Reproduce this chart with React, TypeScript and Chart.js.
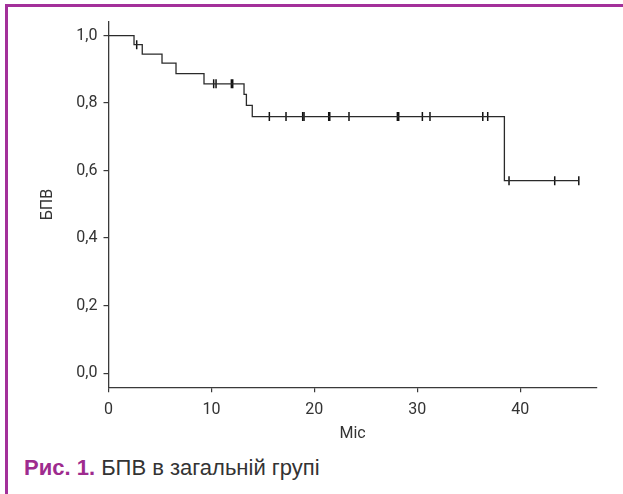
import React, { useEffect, useRef } from "react";
import { Chart, registerables } from "chart.js";

Chart.register(...registerables);

// Kaplan–Meier curve: event times (months) and survival after each event
const eventTimes = [0, 2.48, 3.28, 5.2, 6.56, 9.28, 13.17, 13.4, 13.97, 38.47];
const survival = [1.0, 0.973, 0.945, 0.918, 0.887, 0.857, 0.826, 0.793, 0.76, 0.57];
const followUpEnd = 45.7;

// censored observations (months)
const censorTimes = [
  2.74, 10.22, 10.45, 11.94, 12.07, 15.63, 17.25, 18.87, 19.0, 21.4, 21.5,
  23.37, 28.07, 28.2, 30.5, 31.24, 36.37, 36.85, 38.92, 43.36, 45.7,
];

const xTickValues = [0, 10, 20, 30, 40];
const xTickLabels = ["0", "10", "20", "30", "40"];
const yTickValues = [0, 0.2, 0.4, 0.6, 0.8, 1.0];
const yTickLabels = ["0,0", "0,2", "0,4", "0,6", "0,8", "1,0"];

const xTitle = "Міс";
const yTitle = "БПВ";
const captionBold = "Рис. 1.";
const captionText = "БПВ в загальній групі";

function survivalAt(t: number): number {
  let s = survival[0];
  for (let i = 0; i < eventTimes.length; i++) {
    if (eventTimes[i] <= t) s = survival[i];
  }
  return s;
}

export default function App() {
  const ref = useRef<HTMLCanvasElement | null>(null);

  useEffect(() => {
    if (!ref.current) return;
    const curve = eventTimes.map((t, i) => ({ x: t, y: survival[i] }));
    curve.push({ x: followUpEnd, y: survivalAt(followUpEnd) });
    const censors = censorTimes.map((t) => ({ x: t, y: survivalAt(t) }));
    const axisColor = "#3a3a3a";
    const tickFont = { family: "Roboto, 'Liberation Sans', sans-serif", size: 16 };

    const chart = new Chart(ref.current, {
      type: "line",
      data: {
        datasets: [
          {
            data: curve,
            stepped: "before",
            borderColor: "#2a2a2a",
            borderWidth: 1.3,
            pointRadius: 0,
            fill: false,
          },
          {
            data: censors,
            showLine: false,
            pointStyle: "line",
            rotation: 90,
            pointRadius: 4.5,
            pointBorderWidth: 1.5,
            borderColor: "#111",
            pointBorderColor: "#111",
          } as any,
        ],
      },
      options: {
        responsive: false,
        animation: false,
        layout: { padding: { left: 0, right: 26.3, top: 21.7, bottom: 0 } },
        plugins: { legend: { display: false }, tooltip: { enabled: false } },
        scales: {
          x: {
            type: "linear",
            min: 0,
            max: 47.44,
            afterBuildTicks: (s: any) => {
              s.ticks = xTickValues.map((v) => ({ value: v }));
            },
            afterFit: (s: any) => {
              s.height = 62.7;
            },
            ticks: {
              color: "#333",
              font: tickFont,
              padding: 8,
              maxRotation: 0,
              callback: (v: any) => {
                const i = xTickValues.indexOf(Number(v));
                return i >= 0 ? xTickLabels[i] : "";
              },
            },
            grid: {
              display: true,
              drawOnChartArea: false,
              drawTicks: true,
              tickLength: 5,
              color: axisColor,
              lineWidth: 1.2,
            },
            border: { display: true, color: axisColor, width: 1.3 },
            title: {
              display: true,
              text: xTitle,
              color: "#333",
              font: { family: "Roboto, 'Liberation Sans', sans-serif", size: 16 },
              padding: { top: 0, bottom: 6 },
            },
          },
          y: {
            type: "linear",
            min: -0.042,
            max: 1.041,
            afterBuildTicks: (s: any) => {
              s.ticks = yTickValues.map((v) => ({ value: v }));
            },
            afterFit: (s: any) => {
              s.width = 108.5;
            },
            ticks: {
              color: "#333",
              font: tickFont,
              padding: 6,
              callback: (v: any) => {
                const i = yTickValues.findIndex((t) => Math.abs(t - Number(v)) < 1e-6);
                return i >= 0 ? yTickLabels[i] : "";
              },
            },
            grid: {
              display: true,
              drawOnChartArea: false,
              drawTicks: true,
              tickLength: 5,
              color: axisColor,
              lineWidth: 1.2,
            },
            border: { display: true, color: axisColor, width: 1.3 },
            title: {
              display: true,
              text: yTitle,
              color: "#333",
              font: { family: "Roboto, 'Liberation Sans', sans-serif", size: 16 },
              padding: { top: 38, bottom: 0 },
            },
          },
        },
      },
    });
    return () => chart.destroy();
  }, []);

  return (
    <div
      style={{
        position: "fixed",
        left: 0,
        top: 0,
        width: 623,
        height: 494,
        background: "#fff",
        overflow: "hidden",
      }}
    >
      <div
        style={{
          position: "absolute",
          left: 5,
          top: 4,
          width: 640,
          height: 520,
          borderTop: "3px solid #a3309a",
          borderLeft: "3px solid #a3309a",
        }}
      />
      <canvas
        ref={ref}
        width={623}
        height={450}
        style={{ position: "absolute", left: 0, top: 0, width: 623, height: 450 }}
      />
      <div
        style={{
          position: "absolute",
          left: 24,
          top: 455,
          fontFamily: "'Liberation Sans', Arial, sans-serif",
          fontSize: 22,
          lineHeight: "26px",
          color: "#333",
          whiteSpace: "nowrap",
        }}
      >
        <span style={{ fontWeight: "bold", color: "#9e2b8e" }}>{captionBold}</span>{" "}
        <span>{captionText}</span>
      </div>
    </div>
  );
}
